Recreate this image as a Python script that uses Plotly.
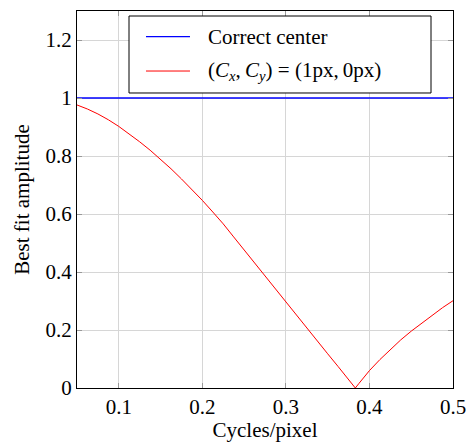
import plotly.graph_objects as go

# Spatial frequency (cycles/pixel) and best-fit amplitude of the shifted-center fit
freq = [0.05, 0.0625, 0.075, 0.0875, 0.1, 0.1125, 0.125, 0.1375, 0.15, 0.1625,
        0.175, 0.1875, 0.2, 0.2125, 0.225, 0.2375, 0.25, 0.2625, 0.275, 0.2875,
        0.3, 0.3125, 0.325, 0.3375, 0.35, 0.3625, 0.375, 0.3831,
        0.3875, 0.4, 0.4125, 0.425, 0.4375, 0.45, 0.4625, 0.475, 0.4875, 0.5]
amp_shifted = [0.976, 0.962, 0.945, 0.925, 0.902, 0.877, 0.849, 0.820, 0.789, 0.756,
               0.721, 0.685, 0.647, 0.607, 0.566, 0.521, 0.476, 0.430, 0.384, 0.339,
               0.294, 0.250, 0.206, 0.162, 0.118, 0.074, 0.030, 0.0,
               0.016, 0.060, 0.098, 0.133, 0.166, 0.196, 0.224, 0.251, 0.277, 0.301]

# Amplitude with the correct center is flat at 1
freq_correct = [0.05, 0.5]
amp_correct = [1.0, 1.0]

x_ticks = [0.1, 0.2, 0.3, 0.4, 0.5]
x_ticklabels = ["0.1", "0.2", "0.3", "0.4", "0.5"]
y_ticks = [0, 0.2, 0.4, 0.6, 0.8, 1.0, 1.2]
y_ticklabels = ["0", "0.2", "0.4", "0.6", "0.8", "1", "1.2"]

name_correct = "Correct center"
name_shifted = ("(<i>C</i><sub><i>x</i></sub>,&#8201;<i>C</i><sub><i>y</i></sub>)"
                "&#8197;=&#8197;(1px,&#8201;0px)")

FONT = "Liberation Serif"
FS = 21
BLUE = "rgb(0,0,255)"
RED = "rgb(255,0,0)"

fig = go.Figure()
fig.add_trace(go.Scatter(x=freq_correct, y=amp_correct, mode="lines", name=name_correct,
                         line=dict(color=BLUE, width=1.3), showlegend=False))
fig.add_trace(go.Scatter(x=freq, y=amp_shifted, mode="lines", name=name_shifted,
                         line=dict(color=RED, width=1.0), showlegend=False))

axis_common = dict(
    showline=True, linecolor="black", linewidth=1, mirror="allticks",
    showgrid=True, gridcolor="#d6d6d6", gridwidth=1,
    ticks="inside", ticklen=5, tickcolor="#999999", tickwidth=1,
    zeroline=False, automargin=False, ticklabeloverflow="allow",
    tickfont=dict(family=FONT, size=FS, color="black"),
)

fig.update_xaxes(range=[0.05, 0.5], tickvals=x_ticks, ticktext=x_ticklabels,
                 title=dict(text="Cycles/pixel", font=dict(family=FONT, size=FS, color="black"),
                            standoff=6),
                 **axis_common)
fig.update_yaxes(range=[0, 1.3], tickvals=y_ticks, ticktext=y_ticklabels,
                 title=dict(text="Best fit amplitude", font=dict(family=FONT, size=FS, color="black"),
                            standoff=10),
                 **axis_common)

# Legend box drawn in paper coordinates
lx0, lx1, ly0, ly1 = 0.1383, 0.9415, 0.7825, 0.9867
fig.add_shape(type="rect", xref="paper", yref="paper", x0=lx0, x1=lx1, y0=ly0, y1=ly1,
              line=dict(color="black", width=1), fillcolor="white", layer="above")
rows = [(0.9318, BLUE, 1.3, name_correct), (0.8408, RED, 1.0, name_shifted)]
for yy, col, w, label in rows:
    fig.add_shape(type="line", xref="paper", yref="paper", x0=0.1835, x1=0.3005, y0=yy, y1=yy,
                  line=dict(color=col, width=w), layer="above")
    fig.add_annotation(xref="paper", yref="paper", x=0.343, y=yy, xanchor="left", yanchor="middle",
                       text=label, showarrow=False, font=dict(family=FONT, size=FS, color="black"))

fig.update_layout(
    width=466, height=442,
    margin=dict(l=77, r=13, t=11, b=54, autoexpand=False),
    paper_bgcolor="white", plot_bgcolor="white",
    font=dict(family=FONT, size=FS, color="black"),
)

fig.write_html("out.html")
